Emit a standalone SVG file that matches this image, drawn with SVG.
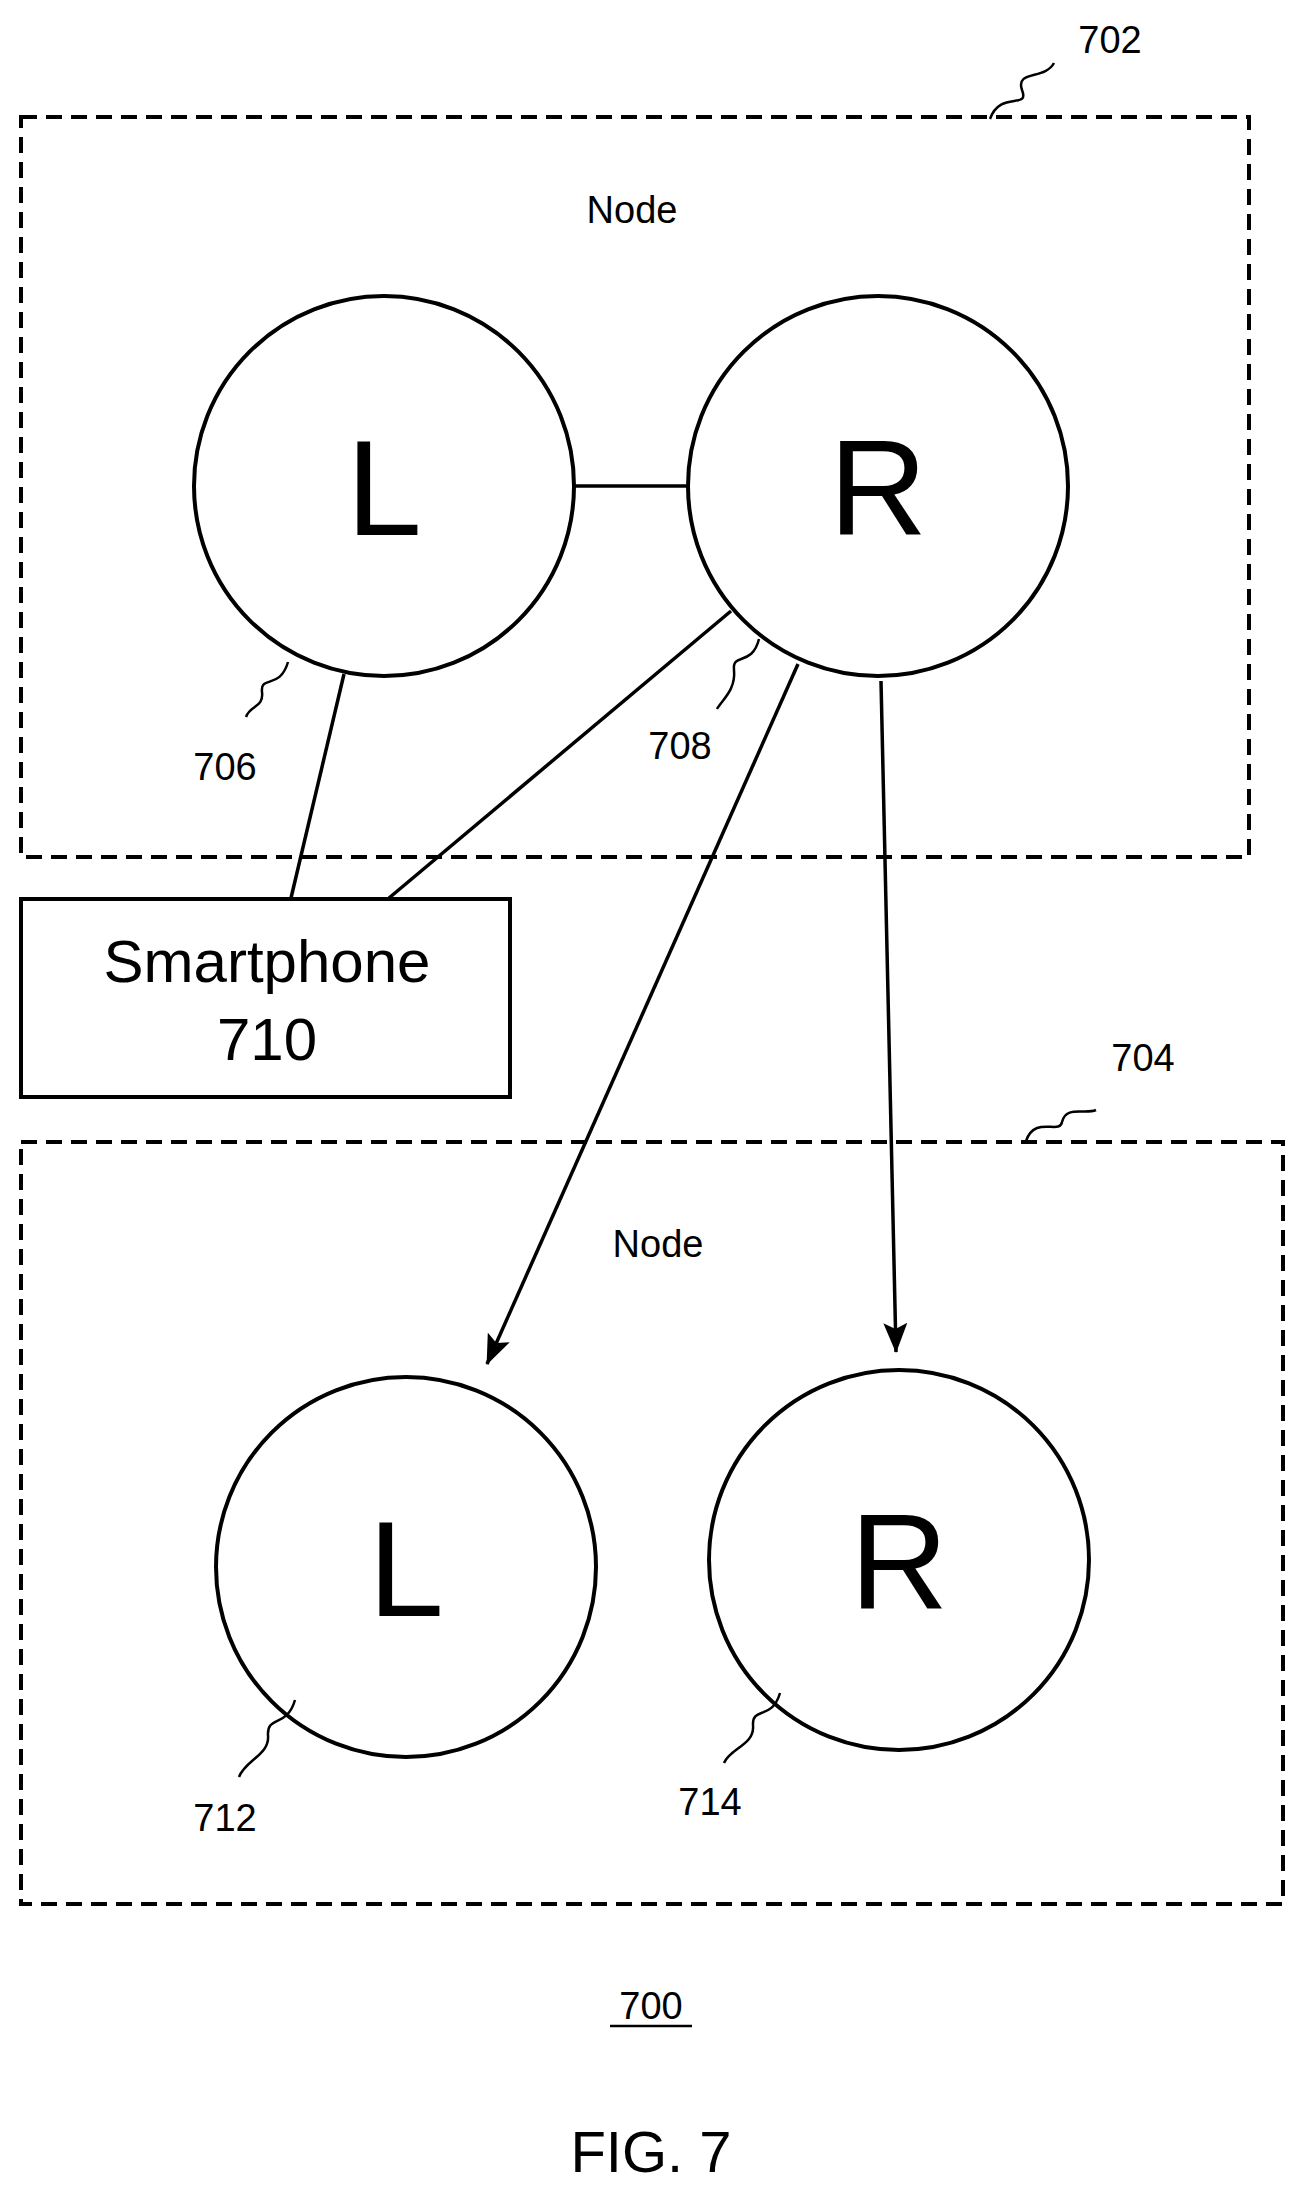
<svg xmlns="http://www.w3.org/2000/svg" width="1308" height="2205" viewBox="0 0 1308 2205">
<style>
.dash{fill:none;stroke:#000;stroke-width:4;stroke-dasharray:16,9}
.c{fill:#fff;stroke:#000;stroke-width:4}
.ln{fill:none;stroke:#000;stroke-width:3.5}
.sq{fill:none;stroke:#000;stroke-width:2.5}
text{font-family:"Liberation Sans",Arial,sans-serif;fill:#000;text-anchor:middle}
.big{font-size:136px}
.lbl{font-size:38px}
</style>
<defs>
<marker id="a" markerWidth="30" markerHeight="24" refX="29" refY="12" orient="auto" markerUnits="userSpaceOnUse"><path d="M0,0 L30,12 L0,24 L6,12 z"/></marker></defs>
<g id="node702"><rect class="dash" x="21" y="117" width="1228" height="740"/><text class="lbl" x="632" y="223">Node</text><text class="lbl" x="1110" y="53">702</text><path class="sq" d="M990,119 C1000,90 1030,110 1022,90 C1015,70 1045,80 1054,63"/></g>
<g id="node704"><rect class="dash" x="21" y="1142" width="1262" height="762"/><text class="lbl" x="658" y="1257">Node</text><text class="lbl" x="1143" y="1071">704</text><path class="sq" d="M1026,1141 C1035,1115 1060,1135 1062,1122 C1066,1105 1085,1115 1096,1110"/></g>
<g id="edges">
<line class="ln" x1="573" y1="486" x2="688" y2="486"/>
<line class="ln" x1="344" y1="674" x2="291" y2="898"/>
<line class="ln" x1="731" y1="611" x2="389" y2="898"/>
<line class="ln" x1="798" y1="664" x2="487" y2="1364" marker-end="url(#a)"/>
<line class="ln" x1="881" y1="681" x2="896" y2="1352" marker-end="url(#a)"/>
</g>
<g id="n706"><circle class="c" cx="384" cy="486" r="190"/><text class="big" x="384" y="535">L</text><text class="lbl" x="225" y="780">706</text><path class="sq" d="M288,662 C280,690 260,675 262,692 C264,708 250,705 246,717"/></g>
<g id="n708"><circle class="c" cx="878" cy="486" r="190"/><text class="big" x="878" y="535">R</text><text class="lbl" x="680" y="759">708</text><path class="sq" d="M759,639 C752,667 732,652 734,670 C736,690 722,700 717,709"/></g>
<g id="n710"><rect class="c" x="21" y="899" width="489" height="198"/><text x="267" y="982" style="font-size:60px">Smartphone</text><text x="267" y="1060" style="font-size:60px">710</text></g>
<g id="n712"><circle class="c" cx="406" cy="1567" r="190"/><text class="big" x="406" y="1616">L</text><text class="lbl" x="225" y="1831">712</text><path class="sq" d="M295,1700 C287,1728 267,1715 268,1735 C270,1755 245,1760 239,1777"/></g>
<g id="n714"><circle class="c" cx="899" cy="1560" r="190"/><text class="big" x="899" y="1609">R</text><text class="lbl" x="710" y="1815">714</text><path class="sq" d="M780,1693 C772,1721 752,1706 753,1725 C755,1745 730,1748 724,1763"/></g>
<g id="fig"><text class="lbl" x="651" y="2019">700</text><line x1="610" y1="2026" x2="692" y2="2026" stroke="#000" stroke-width="2.5"/><text x="651" y="2172" style="font-size:58px">FIG. 7</text></g>
</svg>
